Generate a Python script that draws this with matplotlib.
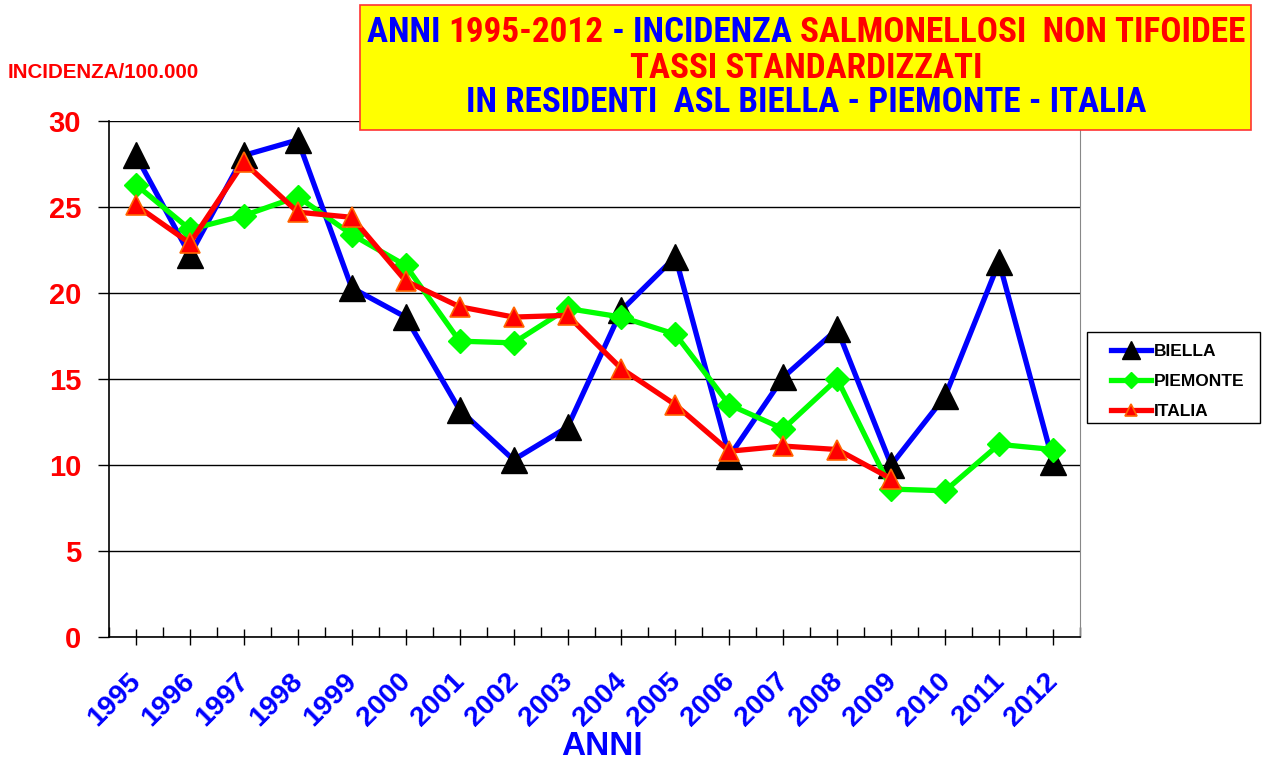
import numpy as np
import matplotlib.pyplot as plt

anni = ['1995', '1996', '1997', '1998', '1999', '2000', '2001', '2002', '2003',
        '2004', '2005', '2006', '2007', '2008', '2009', '2010', '2011', '2012']
biella = [28.0, 22.2, 28.0, 28.9, 20.3, 18.6, 13.2, 10.3, 12.2,
          19.0, 22.1, 10.5, 15.1, 17.9, 10.0, 14.0, 21.8, 10.2]
piemonte = [26.3, 23.7, 24.5, 25.6, 23.4, 21.6, 17.2, 17.1, 19.1,
            18.6, 17.6, 13.5, 12.1, 15.0, 8.6, 8.5, 11.2, 10.9]
italia = [25.1, 22.9, 27.6, 24.7, 24.4, 20.7, 19.2, 18.6, 18.7,
          15.6, 13.5, 10.8, 11.1, 10.9, 9.2]

narrow = ['Liberation Sans Narrow', 'Roboto Condensed', 'Archivo Narrow',
          'Liberation Sans', 'DejaVu Sans']
plt.rcParams['font.family'] = ['Liberation Sans', 'DejaVu Sans']

W, H = 1262, 765
fig = plt.figure(figsize=(W / 100, H / 100), dpi=100)
ax = fig.add_axes([109 / W, 1 - 637 / H, (1080 - 109) / W, (637 - 121) / H])

x = np.arange(len(anni))
ax.plot(x, biella, color='#0000ff', lw=3.8, marker='^', ms=19,
        mfc='black', mec='black', label='BIELLA', zorder=3)
ax.plot(x, piemonte, color='#00ff00', lw=3.8, marker='D', ms=12,
        mfc='#00ff00', mec='#00ff00', label='PIEMONTE', zorder=4)
ax.plot(x[:len(italia)], italia, color='#ff0000', lw=3.8, marker='^', ms=14,
        mfc='#ff0000', mec='#ff6600', mew=1.2, label='ITALIA', zorder=5)

ax.set_xlim(-0.5, len(anni) - 0.5)
ax.set_ylim(0, 30)
ax.grid(axis='y', color='black', lw=1)
ax.set_axisbelow(True)

ax.spines['top'].set_visible(False)
ax.spines['right'].set_color('#888888')
ax.spines['left'].set_linewidth(1.2)
ax.spines['bottom'].set_linewidth(1.2)

ax.set_yticks([0, 5, 10, 15, 20, 25, 30])
ax.set_yticklabels(['0', '5', '10', '15', '20', '25', '30'],
                   color='#ff0000', fontsize=21, fontweight='bold')
ax.tick_params(axis='y', length=8, width=1, pad=12)

ax.set_xticks(x)
ax.set_xticklabels([])
ax.set_xticks(np.arange(-0.5, len(anni), 1.0), minor=True)
ax.tick_params(axis='x', which='major', direction='inout', length=12, width=1)
ax.tick_params(axis='x', which='minor', direction='in', length=7, width=1)

# year labels, rotated 45 degrees below each tick
for i, a in enumerate(anni):
    ax.annotate(a, xy=(i, 0), xycoords=ax.get_xaxis_transform(),
                xytext=(-8, -31), textcoords='offset pixels',
                rotation=45, rotation_mode='anchor', ha='right', va='top',
                color='#0000ff', fontsize=20.5, fontweight='bold',
                annotation_clip=False)

ax.set_xlabel('ANNI', color='#0000ff', fontsize=24, fontweight='bold')
ax.xaxis.set_label_coords((602 - 109) / (1080 - 109), -(731 - 637) / (637 - 121))

fig.text(8 / W, 1 - 72 / H, 'INCIDENZA/100.000', color='#ff0000', fontsize=14.8,
         fontweight='bold', ha='left', va='center')

# title box
fig.patches.append(plt.Rectangle((360 / W, 1 - 130 / H), 891 / W, 125 / H,
                                 transform=fig.transFigure, facecolor='#ffff00',
                                 edgecolor='#ff3333', lw=1.2, zorder=10))

blue = '#0000ff'
red = '#ff0000'
righe = [[('ANNI ', blue), ('1995-2012', red), (' - INCIDENZA ', blue),
          ('SALMONELLOSI  NON TIFOIDEE', red)],
         [('TASSI STANDARDIZZATI', red)],
         [('IN RESIDENTI  ASL BIELLA - PIEMONTE - ITALIA', blue)]]
righe_y = [33, 68, 103]

r = fig.canvas.get_renderer()
all_texts = []
for parts, yy in zip(righe, righe_y):
    texts = []
    for s, c in parts:
        t = fig.text(0, 1 - yy / H, s, color=c, fontsize=20, fontweight='bold',
                     family=narrow, va='center', ha='left', zorder=11)
        texts.append(t)
    all_texts.append(texts)

# fit the first line to the box width
w1 = sum(t.get_window_extent(r).width for t in all_texts[0])
size = 20 * 880 / w1
for texts in all_texts:
    for t in texts:
        t.set_fontsize(size)
    widths = [t.get_window_extent(r).width for t in texts]
    start = 806 - sum(widths) / 2
    for t, w in zip(texts, widths):
        t.set_x(start / W)
        start += w

# legend
fig.patches.append(plt.Rectangle((1087 / W, 1 - 423 / H), 173 / W, 91 / H,
                                 transform=fig.transFigure, facecolor='white',
                                 edgecolor='black', lw=1, zorder=1))
leg = fig.legend(loc='upper left', bbox_to_anchor=(1097 / W, 1 - 330 / H),
                 frameon=False, prop={'weight': 'bold', 'size': 12.5},
                 markerscale=0.65, handlelength=2.3, handletextpad=0.2,
                 borderpad=0.3, labelspacing=0.85)

plt.savefig('out.png', dpi=100)
